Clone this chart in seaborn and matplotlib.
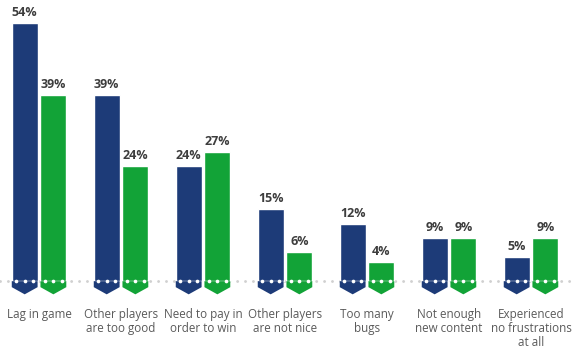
import numpy as np
import pandas as pd
import matplotlib
matplotlib.use("Agg")
import matplotlib.pyplot as plt
from matplotlib.patches import Polygon
import seaborn as sns

# chart data
categories = [
    "Lag in game",
    "Other players\nare too good",
    "Need to pay in\norder to win",
    "Other players\nare not nice",
    "Too many\nbugs",
    "Not enough\nnew content",
    "Experienced\nno frustrations\nat all",
]
blue_vals = [54, 39, 24, 15, 12, 9, 5]
green_vals = [39, 24, 27, 6, 4, 9, 9]
series = ["Group A", "Group B"]

navy = "#1d3b78"
green = "#12a337"

df = pd.DataFrame({
    "category": categories * 2,
    "value": blue_vals + green_vals,
    "group": [series[0]] * len(categories) + [series[1]] * len(categories),
})

sns.set_style("white")
plt.rcParams["font.family"] = ["Open Sans", "DejaVu Sans"]

fig = plt.figure(figsize=(5.82, 3.51), dpi=100)
ax = fig.add_axes([0, 0, 1, 1])

sns.barplot(data=df, x="category", y="value", hue="group",
            palette=[navy, green], width=0.7, gap=0.1,
            legend=False, ax=ax, zorder=3, saturation=1)

# dotted baseline behind the bars
ax.plot([-0.47, 6.5], [0, 0], color="#d0d0d0", lw=2.1,
        linestyle=(0, (0.01, 2.7)), dash_capstyle="round", zorder=1)

d1, d2 = 1.25, 2.75
for cont in ax.containers:
    for bar in cont:
        x0, w = bar.get_x(), bar.get_width()
        c = bar.get_facecolor()
        ax.add_patch(Polygon([(x0, 0), (x0 + w, 0), (x0 + w, -d1),
                              (x0 + w / 2, -d2), (x0, -d1)],
                             closed=True, facecolor=c, edgecolor="none", zorder=3))
        cx = x0 + w / 2
        ax.scatter([cx - 0.1, cx, cx + 0.1], [0, 0, 0], s=7, color="white",
                   zorder=4, linewidths=0)
    ax.bar_label(cont, labels=[f"{int(v)}%" for v in cont.datavalues],
                 padding=3, fontsize=9, fontweight="bold", color="#3d3d3d")

for i, lab in enumerate(categories):
    ax.text(i, -5.6, lab, ha="center", va="top", fontsize=8.4,
            color="#5a5a5a", linespacing=1.1)

ax.set_xlim(-0.476, 6.622)
ax.set_ylim(-14.6, 58.8)
ax.axis("off")

fig.savefig("out.png", dpi=100)
